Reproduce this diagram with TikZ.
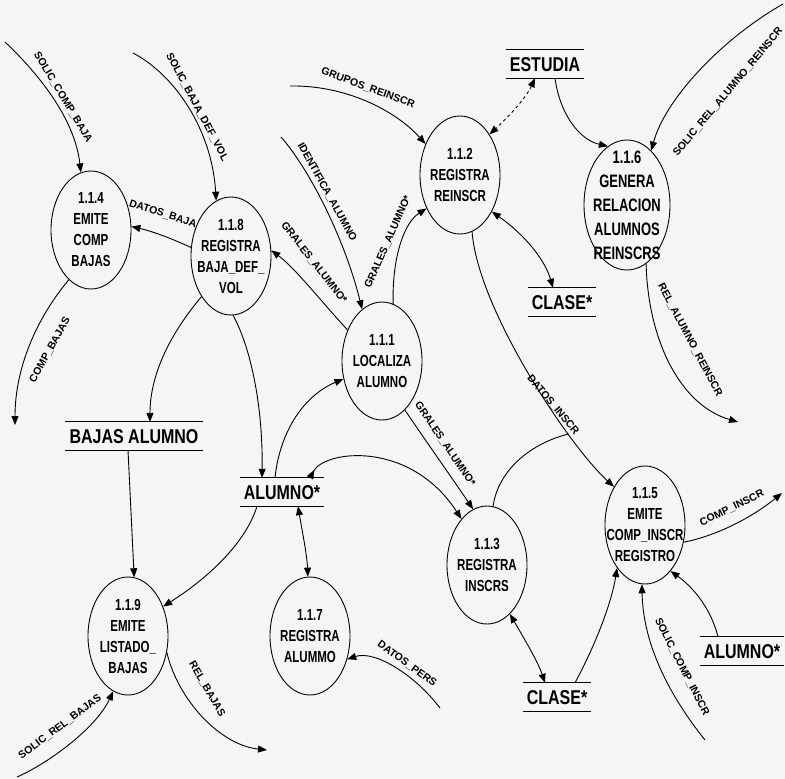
\documentclass[tikz,border=0pt]{standalone}
\usepackage{fontspec}
\setmainfont{Liberation Sans}
\newfontfamily\condfont[FakeStretch=0.72]{Liberation Sans}
\newfontfamily\storefont[FakeStretch=0.8]{Liberation Sans}
\usetikzlibrary{shapes.geometric,arrows.meta}

\begin{document}
\begin{tikzpicture}[
    x=1pt, y=-1pt,
    >={Triangle[length=9pt,width=7pt]},
    proc/.style={ellipse, draw=black, line width=0.9pt, minimum width=80pt, minimum height=118pt,
        inner xsep=-12pt, inner ysep=-14pt, align=center,
        font=\condfont\bfseries\fontsize{16}{21}\selectfont},
    store/.style={inner xsep=4pt, inner ysep=6.5pt, text height=15pt, text depth=0pt,
        font=\storefont\bfseries\fontsize{20}{20}\selectfont},
    store line/.style={draw=black, line width=0.9pt},
    flow/.style={draw=black, line width=0.9pt, ->},
    twoway/.style={draw=black, line width=0.9pt, <->},
    link/.style={draw=black, line width=0.9pt},
    flow label/.style={font=\bfseries\fontsize{10.5}{10.5}\selectfont, inner sep=1pt}
]
% Background
\fill[gray!8] (0,0) rectangle (785,779);
\useasboundingbox (0,0) rectangle (785,779);

% Processes
\node[proc] (p114) at (91,230) {1.1.4\\EMITE\\COMP\\BAJAS};
\node[proc] (p118) at (231,256) {1.1.8\\REGISTRA\\BAJA\_DEF\_\\VOL};
\node[proc] (p111) at (382,361) {1.1.1\\LOCALIZA\\ALUMNO};
\node[proc] (p112) at (460,175) {1.1.2\\REGISTRA\\REINSCR};
\node[proc, minimum width=86pt, minimum height=130pt,
      font=\condfont\bfseries\fontsize{18}{24}\selectfont] (p116) at (627,205)
      {1.1.6\\GENERA\\RELACION\\ALUMNOS\\REINSCRS};
\node[proc] (p113) at (487,565) {1.1.3\\REGISTRA\\INSCRS};
\node[proc] (p115) at (645,525) {1.1.5\\EMITE\\COMP\_INSCR\\REGISTRO};
\node[proc] (p119) at (128,636) {1.1.9\\EMITE\\LISTADO\_\\BAJAS};
\node[proc] (p117) at (310,636) {1.1.7\\REGISTRA\\ALUMMO};

% Data stores
\node[store] (sEstudia) at (545,64) {ESTUDIA};
\node[store] (sClaseA) at (562,302) {CLASE*};
\node[store] (sBajas) at (134,436) {BAJAS ALUMNO};
\node[store] (sAlumnoA) at (282,492) {ALUMNO*};
\node[store] (sClaseB) at (557,697) {CLASE*};
\node[store] (sAlumnoB) at (742,651) {ALUMNO*};
\foreach \s in {sEstudia,sClaseA,sBajas,sAlumnoA,sClaseB,sAlumnoB} {
    \draw[store line] (\s.north west) -- (\s.north east) (\s.south west) -- (\s.south east);
}

% Free ends
\coordinate (cSCB) at (5,42);
\coordinate (cSBD) at (133,53);
\coordinate (cCB) at (15,425);
\coordinate (cIdent) at (281,137);
\coordinate (cGrupos) at (290,86);
\coordinate (cSolRel) at (783,4);
\coordinate (cRelAR) at (738,422);
\coordinate (cDP) at (440,708);
\coordinate (cSRB) at (17,777);
\coordinate (cRB) at (267,750);
\coordinate (cSCI) at (705,740);
\coordinate (cCI) at (782,493);

% Flows, left part
\draw[flow] (cSCB) .. controls (40,75) and (75,120) .. (p114.100);
\draw[flow] (cSBD) .. controls (175,75) and (212,130) .. (p118.105);
\draw[flow] (p118.168) .. controls (175,240) and (155,232) .. (p114.5);
\draw[flow] (p114.246) .. controls (35,320) and (15,370) .. (cCB);
\draw[flow] (p118.234) .. controls (165,340) and (150,380) .. ([xshift=16pt]sBajas.north);
\draw[flow] (p118.272) .. controls (252,350) and (263,410) .. ([xshift=-20pt]sAlumnoA.north);
\draw[flow] (p111.138) .. controls (320,300) and (295,268) .. (p118.8);
\draw[flow] (cIdent) .. controls (310,170) and (345,240) .. (p111.111);
\draw[flow] (p111.79) .. controls (392,255) and (405,222) .. (p112.225);
\draw[flow] (cGrupos) .. controls (345,85) and (395,110) .. (p112.138);

% Flows, upper right
\draw[twoway, dashed] ([xshift=-10pt]sEstudia.south) .. controls (525,100) and (505,120) .. (p112.54);
\draw[flow] ([xshift=10pt]sEstudia.south) .. controls (560,115) and (580,140) .. (p116.108);
\draw[flow] (cSolRel) .. controls (720,40) and (665,100) .. (p116.66);
\draw[flow] (p116.288) .. controls (648,340) and (680,405) .. (cRelAR);
\draw[twoway] (p112.311) .. controls (525,235) and (545,260) .. ([xshift=-9pt]sClaseA.north);
\draw[flow] (p112.282) .. controls (478,310) and (570,447) .. (p115.129) coordinate[pos=0.72] (cMerge);
\draw[link] (p113.84) .. controls (497,475) and (525,445) .. (cMerge);

% Flows, middle
\draw[flow] (p111.-65) .. controls (430,447) and (452,478) .. (p113.104);
\draw[line width=0.9pt, {Triangle[reversed,length=9pt,width=7pt]}->]
    ([xshift=28pt]sAlumnoA.north) .. controls (325,450) and (410,440) .. (p113.119);
\draw[flow] ([xshift=-7pt]sAlumnoA.north) .. controls (280,430) and (305,395) .. (p111.205);
\draw[flow] ([xshift=-25pt]sAlumnoA.south) .. controls (245,545) and (205,580) .. (p119.40);
\draw[flow] ([xshift=-6pt]sBajas.south) -- (p119.84);
\draw[twoway] ([xshift=16pt]sAlumnoA.south) .. controls (302,530) and (307,555) .. (p117.92);

% Flows, bottom
\draw[flow] (cDP) .. controls (415,675) and (375,650) .. (p117.-32);
\draw[flow] (cSRB) .. controls (45,765) and (95,730) .. (p119.255);
\draw[flow] (p119.-23) .. controls (178,700) and (220,745) .. (cRB);
\draw[twoway] (p113.-65) .. controls (525,640) and (538,662) .. ([xshift=-12pt]sClaseB.north);
\draw[flow] ([xshift=18pt]sClaseB.north) .. controls (598,640) and (612,600) .. (p115.237);
\draw[flow] (cSCI) .. controls (665,690) and (643,640) .. (p115.-93);
\draw[flow] ([xshift=-24pt]sAlumnoB.north) .. controls (710,605) and (690,585) .. (p115.-61);
\draw[flow] (p115.-24) .. controls (720,535) and (755,515) .. (cCI);

% Flow labels
\node[flow label, rotate=-59] (lSCB) at (63,97) {SOLIC\_COMP\_BAJA};
\node[flow label, rotate=-62] (lSBD) at (197,107) {SOLIC\_BAJA\_DEF\_VOL};
\node[flow label, rotate=-18] (lDB) at (163,214) {DATOS\_BAJA};
\node[flow label, rotate=61] (lCB) at (50,350) {COMP\_BAJAS};
\node[flow label, rotate=-52] (lGA1) at (314,263) {GRALES\_ALUMNO*};
\node[flow label, rotate=-61] (lIdent) at (327,192) {IDENTIFICA\_ALUMNO};
\node[flow label, rotate=66] (lGA2) at (388,242) {GRALES\_ALUMNO*};
\node[flow label, rotate=-20] (lGrupos) at (368,88) {GRUPOS\_REINSCR};
\node[flow label, rotate=50] (lSolRel) at (728,92) {SOLIC\_REL\_ALUMNO\_REINSCR};
\node[flow label, rotate=-62] (lRelAR) at (690,340) {REL\_ALUMNO\_REINSCR};
\node[flow label, rotate=-50] (lDI) at (553,405) {DATOS\_INSCR};
\node[flow label, rotate=-56] (lGA3) at (445,444) {GRALES\_ALUMNO*};
\node[flow label, rotate=-36] (lDP) at (407,664) {DATOS\_PERS};
\node[flow label, rotate=37] (lSRB) at (60,727) {SOLIC\_REL\_BAJAS};
\node[flow label, rotate=-60] (lRB) at (207,689) {REL\_BAJAS};
\node[flow label, rotate=-63] (lSCI) at (682,667) {SOLIC\_COMP\_INSCR};
\node[flow label, rotate=26] (lCI) at (732,508) {COMP\_INSCR};
\end{tikzpicture}
\end{document}
